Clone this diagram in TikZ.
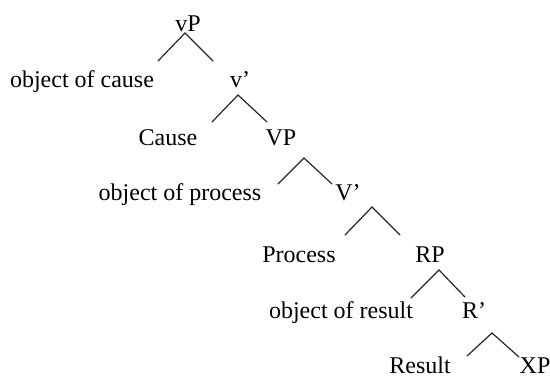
\documentclass[tikz,border=0pt]{standalone}
\usepackage{fontspec}
\setmainfont{Liberation Serif}
\begin{document}
\begin{tikzpicture}[x=0.5pt,y=-0.5pt,
  lbl/.style={anchor=base,inner sep=0pt,font=\fontsize{12}{14}\selectfont},
  branch/.style={draw=black!85,line width=0.6pt,line cap=round,line join=miter}]
\useasboundingbox (0,0) rectangle (550,376);

% labels of the tree
\node[lbl] (vP)   at (188,31)  {vP};
\node[lbl] (objc) at (82,87)   {object of cause};
\node[lbl] (vbar) at (240,87)  {v'};
\node[lbl] (cause) at (168,145) {Cause};
\node[lbl] (VP)   at (281,145) {VP};
\node[lbl] (objp) at (180,200) {object of process};
\node[lbl] (Vbar) at (348,200) {V'};
\node[lbl] (proc) at (299,262) {Process};
\node[lbl] (RP)   at (430,262) {RP};
\node[lbl] (objr) at (341,318) {object of result};
\node[lbl] (Rbar) at (474,318) {R'};
\node[lbl] (res)  at (420,373) {Result};
\node[lbl] (XP)   at (535,373) {XP};

% branch points under each projection
\coordinate (vP-a) at (185,33);  \coordinate (vP-l) at (158,61);  \coordinate (vP-r) at (213,61);
\coordinate (vb-a) at (238,95);  \coordinate (vb-l) at (212,122); \coordinate (vb-r) at (267,122);
\coordinate (VP-a) at (304,158); \coordinate (VP-l) at (278,184); \coordinate (VP-r) at (332,184);
\coordinate (Vb-a) at (372,207); \coordinate (Vb-l) at (345,235); \coordinate (Vb-r) at (400,235);
\coordinate (RP-a) at (439,270); \coordinate (RP-l) at (411,298); \coordinate (RP-r) at (465,297);
\coordinate (Rb-a) at (492,333); \coordinate (Rb-l) at (467,356); \coordinate (Rb-r) at (519,357);

\draw[branch] (vP-l) -- (vP-a) -- (vP-r);
\draw[branch] (vb-l) -- (vb-a) -- (vb-r);
\draw[branch] (VP-l) -- (VP-a) -- (VP-r);
\draw[branch] (Vb-l) -- (Vb-a) -- (Vb-r);
\draw[branch] (RP-l) -- (RP-a) -- (RP-r);
\draw[branch] (Rb-l) -- (Rb-a) -- (Rb-r);
\end{tikzpicture}
\end{document}
